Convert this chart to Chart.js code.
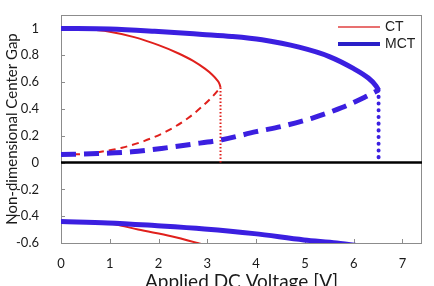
<!DOCTYPE html>
<html>
<head>
<meta charset="utf-8">
<script src="https://cdn.jsdelivr.net/npm/chart.js@4"></script>
<style>
  html, body { margin: 0; padding: 0; background: #fff; }
  #wrap { width: 434px; height: 286px; }
</style>
</head>
<body>
<div id="wrap"><canvas id="gapChart" width="434" height="286"></canvas></div>
<script>
// axis ticks
const voltageTicks = [0, 1, 2, 3, 4, 5, 6, 7];
const gapTicks = [-0.6, -0.4, -0.2, 0, 0.2, 0.4, 0.6, 0.8, 1];

// CT (conventional) branches
const ctStableV   = [0, 0.5, 1.0, 1.5, 2.0, 2.4, 2.7, 2.95, 3.1, 3.2, 3.25, 3.27];
const ctStableGap = [1, 0.995, 0.975, 0.935, 0.875, 0.815, 0.76, 0.7, 0.655, 0.615, 0.585, 0.56];
const ctUnstableV   = [0, 0.5, 0.9, 1.25, 1.7, 2.15, 2.6, 2.9, 3.1, 3.27];
const ctUnstableGap = [0.06, 0.065, 0.085, 0.11, 0.16, 0.23, 0.33, 0.42, 0.49, 0.56];
const ctPullInV   = [3.27, 3.27];
const ctPullInGap = [0.56, 0];
const ctLowerV   = [0, 0.7, 1.1, 1.58, 2.26, 2.8, 3.1];
const ctLowerGap = [-0.44, -0.445, -0.46, -0.5, -0.55, -0.6, -0.63];

// MCT (modified) branches
const mctStableV   = [0, 1, 1.92, 2.9, 3.5, 4.12, 4.88, 5.5, 6.0, 6.3, 6.45, 6.51];
const mctStableGap = [1, 0.995, 0.978, 0.955, 0.94, 0.915, 0.86, 0.79, 0.7, 0.63, 0.575, 0.54];
const mctUnstableV   = [0, 0.75, 1.45, 2.06, 2.65, 3.3, 4.0, 4.53, 5.14, 5.76, 6.24, 6.51];
const mctUnstableGap = [0.06, 0.067, 0.08, 0.105, 0.135, 0.17, 0.23, 0.27, 0.33, 0.41, 0.49, 0.54];
const mctPullInV   = [6.51, 6.51];
const mctPullInGap = [0.54, 0];
const mctLowerV   = [0, 0.96, 1.92, 2.94, 3.96, 4.98, 5.65, 6.3];
const mctLowerGap = [-0.44, -0.45, -0.47, -0.495, -0.53, -0.577, -0.6, -0.63];

const legendNames = ["CT", "MCT"];

const RED = "#e0201c";
const BLUE = "#3b1fe0";

function pts(xs, ys) {
  return xs.map((x, i) => ({ x: x, y: ys[i] }));
}

function line(data, color, width, dash, cap, straight) {
  return {
    data: data,
    borderColor: color,
    borderWidth: width,
    borderDash: dash || [],
    borderCapStyle: cap || "butt",
    pointRadius: 0,
    tension: straight ? 0 : 0.4,
    cubicInterpolationMode: straight ? "default" : "monotone",
    fill: false
  };
}

// frame, zero line, inward ticks, legend
const framePlugin = {
  id: "frame",
  beforeDatasetsDraw(chart) {
    const { ctx, chartArea: a, scales } = chart;
    ctx.save();
    ctx.strokeStyle = "#8c8c8c";
    ctx.lineWidth = 1;
    ctx.strokeRect(a.left + 0.5, a.top + 0.5, a.right - a.left - 1, a.bottom - a.top);
    ctx.beginPath();
    gapTicks.forEach(v => {
      const y = Math.round(scales.y.getPixelForValue(v)) + 0.5;
      ctx.moveTo(a.left, y);
      ctx.lineTo(a.left + 4, y);
    });
    voltageTicks.forEach(v => {
      const x = Math.round(scales.x.getPixelForValue(v)) + 0.5;
      ctx.moveTo(x, a.bottom);
      ctx.lineTo(x, a.bottom - 4);
    });
    ctx.stroke();
    const y0 = scales.y.getPixelForValue(0);
    ctx.strokeStyle = "#000";
    ctx.lineWidth = 2.5;
    ctx.beginPath();
    ctx.moveTo(a.left, y0);
    ctx.lineTo(a.right, y0);
    ctx.stroke();
    ctx.restore();
  },
  afterDraw(chart) {
    const { ctx, chartArea: a } = chart;
    ctx.save();
    ctx.font = "14px 'Liberation Sans', Arial, sans-serif";
    ctx.textBaseline = "middle";
    ctx.fillStyle = "#222";
    const rows = [
      { name: legendNames[0], color: "#e04040", width: 1.5, y: 27 },
      { name: legendNames[1], color: "#2a1fc8", width: 4, y: 44 }
    ];
    rows.forEach(r => {
      ctx.strokeStyle = r.color;
      ctx.lineWidth = r.width;
      ctx.beginPath();
      ctx.moveTo(a.right - 84, r.y);
      ctx.lineTo(a.right - 42, r.y);
      ctx.stroke();
      ctx.fillText(r.name, a.right - 37, r.y);
    });
    ctx.restore();
  }
};

new Chart(document.getElementById("gapChart"), {
  type: "line",
  data: {
    datasets: [
      line(pts(mctStableV, mctStableGap), BLUE, 5),
      line(pts(mctUnstableV, mctUnstableGap), BLUE, 5, [15, 8]),
      line(pts(mctPullInV, mctPullInGap), BLUE, 4, [0.1, 6.6], "round", true),
      line(pts(mctLowerV, mctLowerGap), BLUE, 5),
      line(pts(ctStableV, ctStableGap), RED, 2),
      line(pts(ctUnstableV, ctUnstableGap), RED, 2, [7, 5]),
      line(pts(ctPullInV, ctPullInGap), RED, 2, [1.5, 2], "butt", true),
      line(pts(ctLowerV, ctLowerGap), RED, 2)
    ]
  },
  options: {
    responsive: false,
    animation: false,
    layout: { padding: { top: 15, right: 12, left: 0, bottom: 0 } },
    scales: {
      x: {
        type: "linear",
        min: 0,
        max: 7.4,
        afterBuildTicks: s => { s.ticks = voltageTicks.map(v => ({ value: v })); },
        afterFit: s => { s.height = 43; s.paddingLeft = 0; s.paddingRight = 0; },
        grid: { display: false },
        border: { display: false },
        ticks: {
          padding: 5,
          color: "#1a1a1a",
          font: { family: "Lato", size: 13 },
          maxRotation: 0
        },
        title: {
          display: true,
          text: "Applied DC Voltage [V]",
          color: "#1a1a1a",
          font: { family: "Lato", size: 19 },
          padding: { top: 0, bottom: -7 }
        }
      },
      y: {
        min: -0.6,
        max: 1.1,
        afterBuildTicks: s => { s.ticks = gapTicks.map(v => ({ value: v })); },
        afterFit: s => { s.width = 61; s.paddingTop = 0; s.paddingBottom = 0; },
        grid: { display: false },
        border: { display: false },
        ticks: {
          padding: 14,
          color: "#1a1a1a",
          font: { family: "Lato", size: 13 },
          callback: v => String(Math.round(v * 10) / 10)
        },
        title: {
          display: true,
          text: "Non-dimensional Center Gap",
          color: "#1a1a1a",
          font: { family: "Lato", size: 15 },
          padding: { top: 3, bottom: 0 }
        }
      }
    },
    plugins: {
      legend: { display: false },
      tooltip: { enabled: false }
    }
  },
  plugins: [framePlugin]
});
</script>
</body>
</html>
